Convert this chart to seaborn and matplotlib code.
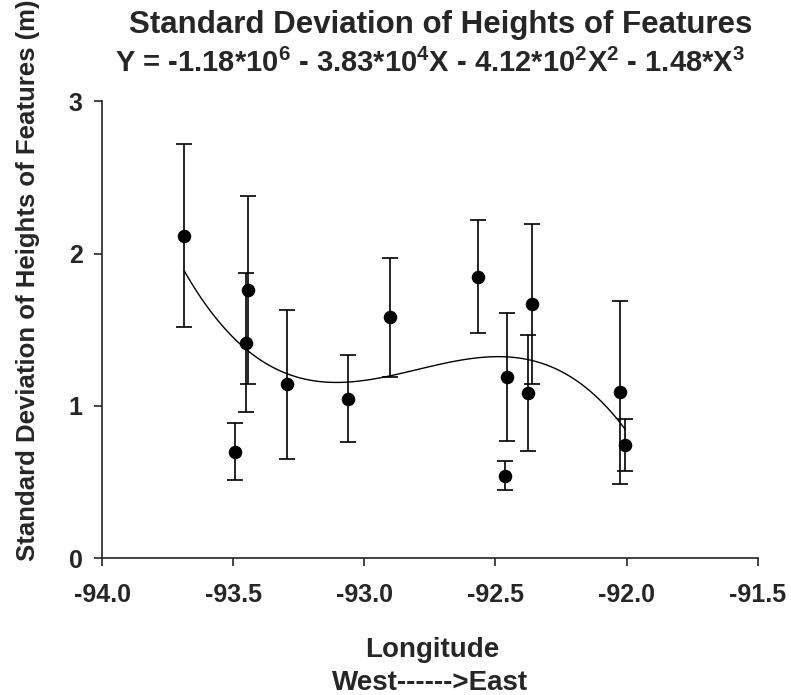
import numpy as np
import pandas as pd
import matplotlib
matplotlib.use("Agg")
import matplotlib.pyplot as plt
import seaborn as sns

# Values
longitude = [-93.687, -93.492, -93.445, -93.453, -93.295, -93.062, -92.901,
             -92.566, -92.464, -92.457, -92.375, -92.361, -92.027, -92.005]
std_height = [2.118, 0.700, 1.762, 1.416, 1.142, 1.048, 1.582,
              1.849, 0.540, 1.190, 1.083, 1.668, 1.088, 0.744]
std_error = [0.600, 0.188, 0.617, 0.454, 0.490, 0.287, 0.390,
             0.373, 0.095, 0.422, 0.380, 0.527, 0.600, 0.170]

x_ticks = [-94.0, -93.5, -93.0, -92.5, -92.0, -91.5]
y_ticks = [0, 1, 2, 3]

title = "Standard Deviation of Heights of Features"
equation = r"Y = -1.18*10$^{6}$ - 3.83*10$^{4}$X - 4.12*10$^{2}$X$^{2}$ - 1.48*X$^{3}$"

df = pd.DataFrame({"Longitude": longitude, "SD": std_height, "err": std_error})

sns.set_style("ticks")
plt.rcParams["font.family"] = ["Liberation Sans", "DejaVu Sans"]
plt.rcParams["font.weight"] = "bold"
plt.rcParams["mathtext.fontset"] = "custom"
plt.rcParams["mathtext.rm"] = "Liberation Sans:bold"
plt.rcParams["mathtext.it"] = "Liberation Sans:bold"
plt.rcParams["mathtext.bf"] = "Liberation Sans:bold"

fig = plt.figure(figsize=(7.91, 6.95), dpi=100)
ax = fig.add_axes([0.129, 0.197, 0.829, 0.657])

# error bars
ax.errorbar(df["Longitude"], df["SD"], yerr=df["err"], fmt="none",
            ecolor="black", elinewidth=1.2, capsize=6, capthick=1.2, zorder=2)

# third order fit
sns.regplot(data=df, x="Longitude", y="SD", order=3, ci=None, scatter=False,
            line_kws={"color": "black", "linewidth": 1.0}, ax=ax)

# points
sns.scatterplot(data=df, x="Longitude", y="SD", color="black", s=95,
                edgecolor="black", linewidth=0, zorder=3, ax=ax)

ax.set_xlim(-94.0, -91.5)
ax.set_ylim(0, 3)
ax.set_xticks(x_ticks)
ax.set_xticklabels([f"{v:.1f}" for v in x_ticks])
ax.set_yticks(y_ticks)
ax.tick_params(axis="both", labelsize=18, length=6, width=1.2, direction="out")
ax.tick_params(axis="x", pad=12)
ax.tick_params(axis="y", pad=8)
for lab in ax.get_xticklabels() + ax.get_yticklabels():
    lab.set_fontweight("bold")
for side in ["top", "right"]:
    ax.spines[side].set_visible(False)
for side in ["left", "bottom"]:
    ax.spines[side].set_linewidth(1.2)
    ax.spines[side].set_color("#222222")

ax.set_xlabel("")
ax.set_ylabel("")

fig.text(0.557, 0.9525, title, ha="center", va="baseline", fontsize=22.5, fontweight="bold")
fig.text(0.544, 0.896, equation, ha="center", va="baseline", fontsize=21, fontweight="bold")
fig.text(0.547, 0.055, "Longitude", ha="center", va="baseline",
         fontsize=20, fontweight="bold")
fig.text(0.544, 0.007, "West------>East", ha="center", va="baseline",
         fontsize=20, fontweight="bold")
fig.text(0.036, 0.597, "Standard Deviation of Heights of Features (m)", ha="center",
         va="center", rotation=90, fontsize=18.5, fontweight="bold")

fig.savefig("out.png", dpi=100)
